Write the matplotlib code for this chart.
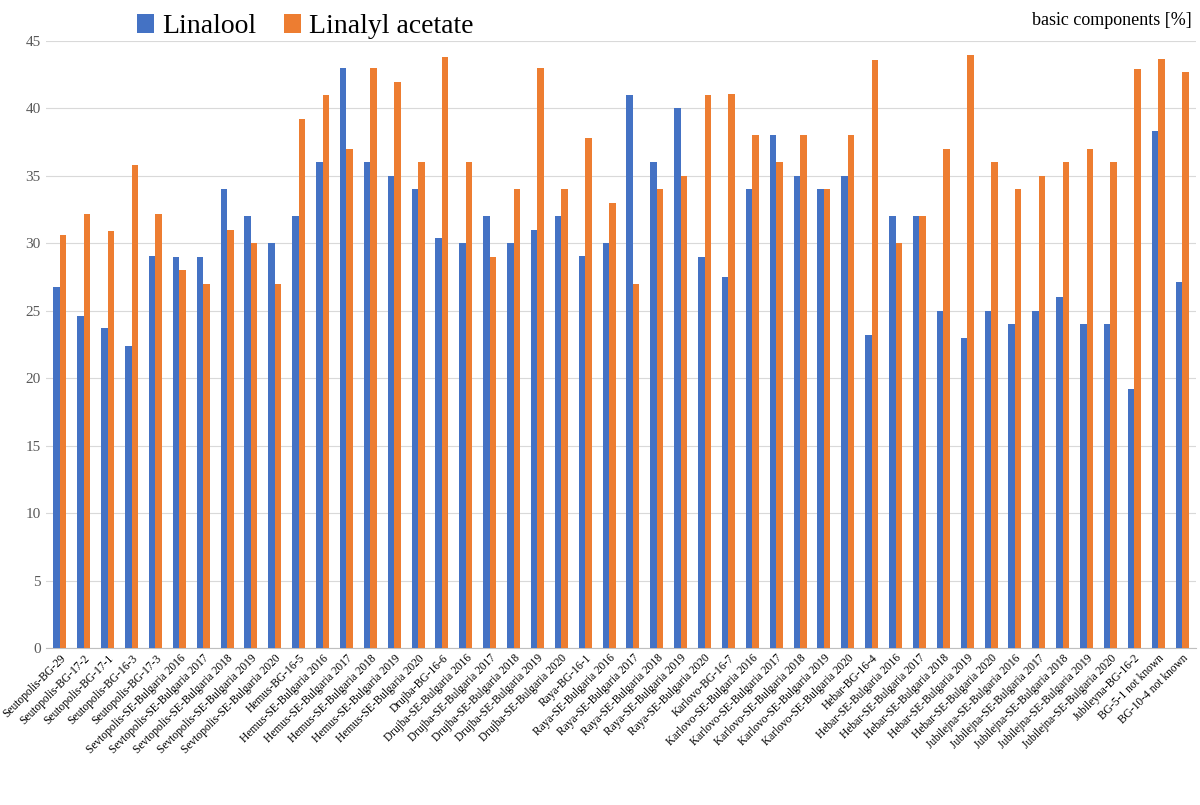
import numpy as np
import matplotlib
matplotlib.use("Agg")
from matplotlib import pyplot as plt

plt.rcParams['font.family'] = ['Liberation Serif', 'DejaVu Serif']

yrs = ["2016", "2017", "2018", "2019", "2020"]
categories = (["Seutopolis-BG-29", "Seutopolis-BG-17-2", "Seutopolis-BG-17-1",
               "Seutopolis-BG-16-3", "Seutopolis-BG-17-3"]
              + ["Sevtopolis-SE-Bulgaria " + y for y in yrs]
              + ["Hemus-BG-16-5"] + ["Hemus-SE-Bulgaria " + y for y in yrs]
              + ["Drujba-BG-16-6"] + ["Drujba-SE-Bulgaria " + y for y in yrs]
              + ["Raya-BG-16-1"] + ["Raya-SE-Bulgaria " + y for y in yrs]
              + ["Karlovo-BG-16-7"] + ["Karlovo-SE-Bulgaria " + y for y in yrs]
              + ["Hebar-BG-16-4"] + ["Hebar-SE-Bulgaria " + y for y in yrs]
              + ["Jubilejna-SE-Bulgaria " + y for y in yrs]
              + ["Jubileyna-BG-16-2", "BG-5-1 not known", "BG-10-4 not known"])

linalool = [26.8, 24.6, 23.7, 22.4, 29.1, 29, 29, 34, 32, 30,
            32, 36, 43, 36, 35, 34, 30.4, 30, 32, 30, 31, 32,
            29.1, 30, 41, 36, 40, 29, 27.5, 34, 38, 35, 34, 35,
            23.2, 32, 32, 25, 23, 25, 24, 25, 26, 24, 24,
            19.2, 38.3, 27.1]
linalyl_acetate = [30.6, 32.2, 30.9, 35.8, 32.2, 28, 27, 31, 30, 27,
                   39.2, 41, 37, 43, 42, 36, 43.8, 36, 29, 34, 43, 34,
                   37.8, 33, 27, 34, 35, 41, 41.1, 38, 36, 38, 34, 38,
                   43.6, 30, 32, 37, 44, 36, 34, 35, 36, 37, 36,
                   42.9, 43.7, 42.7]

fig = plt.figure(figsize=(12, 8.05), dpi=100)
ax = fig.add_axes([0.038, 0.195, 0.959, 0.754])

x = np.arange(len(categories))
w = 0.27
ax.bar(x - w/2, linalool, w, color='#4472C4', label='Linalool', zorder=3)
ax.bar(x + w/2, linalyl_acetate, w, color='#ED7D31', label='Linalyl acetate', zorder=3)

ax.set_xlim(-0.6, len(categories) - 0.4)
ax.set_ylim(0, 45)
ax.set_yticks(range(0, 46, 5))
ax.yaxis.grid(True, color='#d9d9d9', linewidth=0.8, zorder=0)
ax.set_xticks(x)
ax.set_xticklabels(categories, rotation=45, ha='right', rotation_mode='anchor', fontsize=8.3)
ax.tick_params(axis='x', length=0, pad=3)
ax.tick_params(axis='y', length=0, labelsize=11, colors='#595959')
for s in ['top', 'right', 'left']:
    ax.spines[s].set_visible(False)
ax.spines['bottom'].set_color('#bfbfbf')

ax.legend(loc='lower left', bbox_to_anchor=(0.07, 0.985), ncol=2, frameon=False,
          fontsize=20, handlelength=0.6, handletextpad=0.3, columnspacing=1.0,
          borderaxespad=0)
fig.text(0.993, 0.975, 'basic components [%]', ha='right', va='center', fontsize=13)

fig.savefig('out.png')
